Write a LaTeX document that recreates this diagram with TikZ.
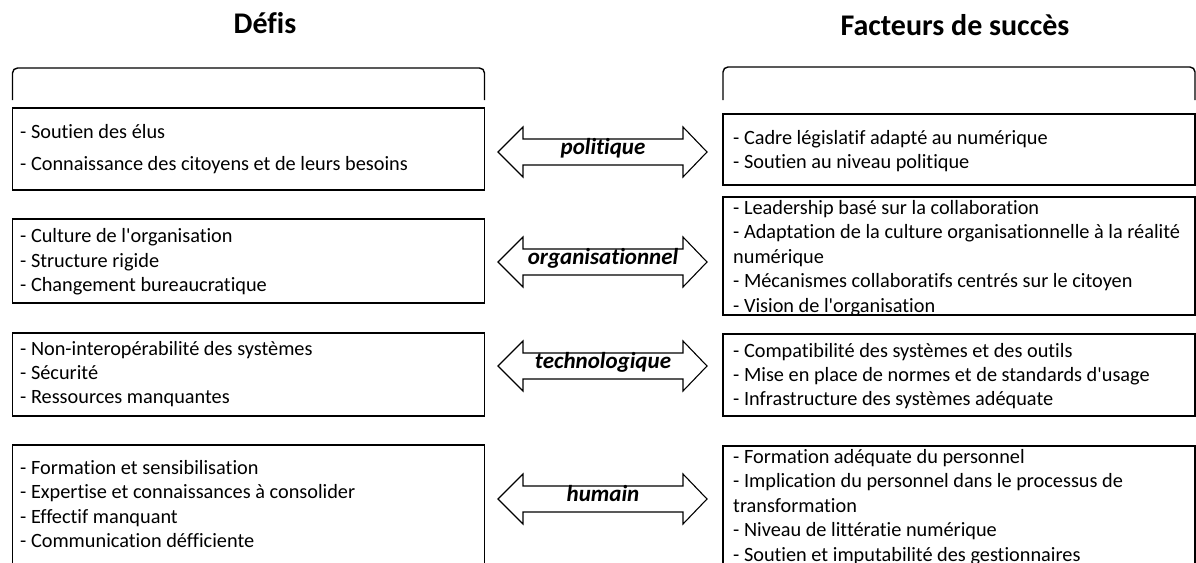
\documentclass[tikz,border=0pt]{standalone}
\usepackage{fontspec}
\setmainfont[Ligatures={NoCommon}]{Carlito}
\newcommand\mydblarrow[3]{%
  \draw[arr] (498,#2) -- (523,#2-25) -- (523,#2-13) -- (683,#2-13) -- (683,#2-25)
    -- (707,#2) -- (683,#2+25) -- (683,#2+13) -- (523,#2+13) -- (523,#2+25) -- cycle;
  \node[lbl] (#1) at (603,#2) {#3};}
\begin{document}
\begin{tikzpicture}[x=1pt,y=-1pt,
  box/.style={draw, line width=1.4pt, minimum width=472pt, inner sep=0pt},
  txt/.style={anchor=west, align=left, inner sep=0pt, font=\fontsize{20.3}{24.4}\selectfont},
  head/.style={font=\fontsize{30}{36}\selectfont\bfseries, inner sep=0pt},
  lbl/.style={font=\fontsize{23}{27}\selectfont\bfseries\itshape, inner sep=0pt, text height=0.7em, text depth=0.22em},
  arr/.style={draw, line width=1.1pt, line join=miter},
  brk/.style={draw, line width=1.4pt, rounded corners=5pt}]
\useasboundingbox (0,0) rectangle (1196,562);
\clip (0,0) rectangle (1196,562);
\fill[white] (0,0) rectangle (1196,562);
% headings
\node[head] (hL) at (265,23) {Défis};
\node[head] (hR) at (955,25) {Facteurs de succès};
% brackets
\draw[brk] (12.5,100) -- (12.5,68) -- (484.5,68) -- (484.5,100);
\draw[brk] (723,100) -- (723,67) -- (1195,67) -- (1195,100);
% left boxes
\node[box, minimum height=82pt] (L1) at (248.5,149) {};
\node[box, minimum height=84pt] (L2) at (248.5,261) {};
\node[box, minimum height=83pt] (L3) at (248.5,374.5) {};
\node[box, minimum height=155pt] (L4) at (248.5,522.5) {};
% right boxes
\node[box, minimum width=472pt, minimum height=71pt] (R1) at (959,149.5) {};
\node[box, minimum width=472pt, minimum height=118pt] (R2) at (959,256) {};
\node[box, minimum width=472pt, minimum height=82pt] (R3) at (959,375) {};
\node[box, minimum width=472pt, minimum height=154pt] (R4) at (959,523) {};
% left texts
\node[txt] (LT1) at (20,149) {- Soutien des élus\\[7.6pt]- Connaissance des citoyens et de leurs besoins};
\node[txt] (LT2) at (20,262) {- Culture de l\textquotesingle organisation\\- Structure rigide\\- Changement bureaucratique};
\node[txt] (LT3) at (20,374) {- Non-interopérabilité des systèmes\\- Sécurité\\- Ressources manquantes};
\node[txt] (LT4) at (20,504) {- Formation et sensibilisation\\- Expertise et connaissances à consolider\\- Effectif manquant\\- Communication défficiente};
% right texts
\node[txt] (RT1) at (733,151) {- Cadre législatif adapté au numérique\\- Soutien au niveau politique};
\node[txt] (RT2) at (733,258) {- Leadership basé sur la collaboration\\- Adaptation de la culture organisationnelle à la réalité\\numérique\\- Mécanismes collaboratifs centrés sur le citoyen\\- Vision de l\textquotesingle organisation};
\node[txt] (RT3) at (733,376) {- Compatibilité des systèmes et des outils\\- Mise en place de normes et de standards d\textquotesingle usage\\- Infrastructure des systèmes adéquate};
\node[txt] (RT4) at (733,507) {- Formation adéquate du personnel\\- Implication du personnel dans le processus de\\transformation\\- Niveau de littératie numérique\\- Soutien et imputabilité des gestionnaires};
% arrows
\mydblarrow{A1}{152}{politique}
\mydblarrow{A2}{262}{organisationnel}
\mydblarrow{A3}{366}{technologique}
\mydblarrow{A4}{499}{humain}
\end{tikzpicture}
\end{document}
